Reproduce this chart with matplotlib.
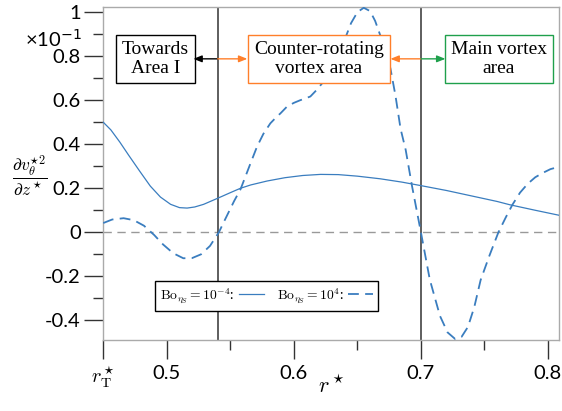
import numpy as np
import matplotlib
matplotlib.use("Agg")
import matplotlib.pyplot as plt
from matplotlib.ticker import MultipleLocator

plt.rcParams['font.family'] = ['Lato', 'DejaVu Sans']
plt.rcParams['mathtext.fontset'] = 'cm'

# Bo = 1e-4 (solid)
r_solid = [0.450, 0.456, 0.463, 0.470, 0.479, 0.487, 0.495, 0.503, 0.510, 0.516,
           0.522, 0.529, 0.535, 0.541, 0.550, 0.558, 0.566, 0.579, 0.593, 0.607,
           0.621, 0.635, 0.650, 0.668, 0.685, 0.700, 0.720, 0.740, 0.760, 0.770,
           0.790, 0.809]
v_solid = [0.500, 0.465, 0.410, 0.350, 0.275, 0.210, 0.160, 0.127, 0.112, 0.110,
           0.115, 0.127, 0.142, 0.157, 0.180, 0.200, 0.215, 0.233, 0.248, 0.258,
           0.263, 0.262, 0.255, 0.243, 0.228, 0.212, 0.190, 0.165, 0.140, 0.125,
           0.100, 0.077]

# Bo = 1e4 (dashed)
r_dash = [0.450, 0.457, 0.466, 0.474, 0.482, 0.490, 0.497, 0.505, 0.513, 0.520,
          0.527, 0.534, 0.541, 0.545, 0.549, 0.553, 0.558, 0.562, 0.566, 0.571,
          0.576, 0.5815, 0.586, 0.5894, 0.5946, 0.600, 0.605, 0.609, 0.613, 0.618,
          0.622, 0.626, 0.632, 0.637, 0.641, 0.645, 0.650,
          0.655, 0.660, 0.664, 0.668, 0.672, 0.676, 0.680, 0.684, 0.688, 0.693,
          0.700, 0.707, 0.715, 0.721, 0.727, 0.732, 0.737, 0.742, 0.747, 0.754,
          0.761, 0.767, 0.772, 0.778, 0.784, 0.790, 0.796, 0.802, 0.809]
v_dash = [0.042, 0.058, 0.064, 0.055, 0.030, -0.012, -0.055, -0.095, -0.118, -0.117,
          -0.100, -0.062, 0.000, 0.048, 0.095, 0.142, 0.195, 0.255, 0.315, 0.389,
          0.447, 0.495, 0.522, 0.540, 0.571, 0.588, 0.600, 0.608, 0.617, 0.647,
          0.675, 0.710, 0.770, 0.830, 0.890, 0.950, 1.000,
          1.020, 1.005, 0.960, 0.895, 0.820, 0.745, 0.620, 0.470, 0.375, 0.210,
          0.000, -0.215, -0.380, -0.455, -0.485, -0.475, -0.430, -0.340, -0.217, -0.105,
          0.000, 0.070, 0.125, 0.180, 0.220, 0.250, 0.270, 0.287, 0.298]

x_ticks = [0.45, 0.5, 0.6, 0.7, 0.8]
x_ticklabels = [r'$r^\star_\mathrm{T}$', '0.5', '0.6', '0.7', '0.8']
y_ticks = [-0.4, -0.2, 0, 0.2, 0.4, 0.6, 0.8, 1.0]
y_ticklabels = ['-0.4', '-0.2', '0', '0.2', '0.4', '0.6', '0.8', '1']
boundaries = [0.54, 0.70]

blue = '#3a7dbf'
orange = '#ff7f2a'
green = '#1fa04c'

fig = plt.figure(figsize=(5.62, 4.11), dpi=100)
ax = fig.add_axes([0.1833, 0.1727, 0.8114, 0.8103])

ax.axhline(0, color='#999999', lw=1, ls=(0, (6, 4)), zorder=1)
for b in boundaries:
    ax.axvline(b, color='#333333', lw=1.1, zorder=2)

ax.plot(r_solid, v_solid, color=blue, lw=0.9, label=r'$\mathrm{Bo}_{\eta_S}=10^{-4}$:', zorder=3)
ax.plot(r_dash, v_dash, color=blue, lw=1.3, ls=(0, (6, 3.5)),
        label=r'$\mathrm{Bo}_{\eta_S}=10^{4}$:', zorder=3)

ax.set_xlim(0.4498, 0.8087)
ax.set_ylim(-0.4895, 1.0236)
ax.set_xticks(x_ticks)
ax.set_xticklabels(x_ticklabels)
ax.set_yticks(y_ticks)
ax.set_yticklabels(y_ticklabels)
ax.xaxis.set_minor_locator(MultipleLocator(0.05))
ax.yaxis.set_minor_locator(MultipleLocator(0.1))
ax.tick_params(which='major', length=14, width=1, color='#333333', labelsize=14.5, pad=2)
ax.tick_params(which='minor', length=7, width=1, color='#333333')
ax.tick_params(axis='x', which='major', pad=4)
for s in ax.spines.values():
    s.set_color('#aaaaaa')
    s.set_linewidth(1)

ax.set_xlabel(r'$r^\star$', fontsize=16, labelpad=-11)
fig.text(0.052, 0.572, r'$\dfrac{\partial v_\theta^{\star 2}}{\partial z^\star}$',
         fontsize=12.5, ha='center', va='center')
fig.text(0.146, 0.905, '×10$^{-1}$', fontsize=14.5, ha='right', va='center',
         math_fontfamily='dejavusans')

# area boxes
box_kw = dict(fontsize=14, family='Liberation Serif', ha='center', va='center',
              linespacing=1.15)
ax.text(0.491, 0.788, 'Towards\nArea I',
        bbox=dict(boxstyle='square,pad=0.3', fc='white', ec='black', lw=1), **box_kw)
ax.text(0.6197, 0.788, 'Counter-rotating\nvortex area',
        bbox=dict(boxstyle='square,pad=0.3', fc='white', ec=orange, lw=1), **box_kw)
ax.text(0.7614, 0.788, 'Main vortex\narea',
        bbox=dict(boxstyle='square,pad=0.3', fc='white', ec=green, lw=1), **box_kw)

arr = dict(arrowstyle='-|>,head_length=0.5,head_width=0.2', lw=1, shrinkA=0, shrinkB=0)
ax.annotate('', xy=(0.5209, 0.788), xytext=(0.54, 0.788), arrowprops=dict(color='black', **arr))
ax.annotate('', xy=(0.5634, 0.788), xytext=(0.54, 0.788), arrowprops=dict(color=orange, **arr))
ax.annotate('', xy=(0.676, 0.788), xytext=(0.70, 0.788), arrowprops=dict(color=orange, **arr))
ax.annotate('', xy=(0.7193, 0.788), xytext=(0.70, 0.788), arrowprops=dict(color=green, **arr))

leg = ax.legend(loc='lower left', bbox_to_anchor=(0.114, 0.087), ncol=2, markerfirst=False,
                fontsize=9.8, handlelength=1.8, columnspacing=1.0, handletextpad=0.3,
                fancybox=False, framealpha=1, edgecolor='black', borderpad=0.4,
                borderaxespad=0)
leg.get_frame().set_linewidth(1)

fig.savefig('out.png', dpi=100)
